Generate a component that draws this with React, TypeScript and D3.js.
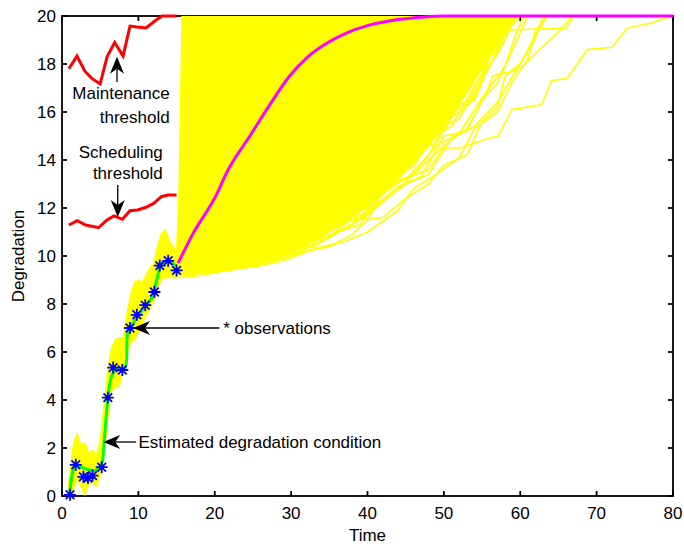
import React, { useEffect, useRef } from 'react';
import * as d3 from 'd3';

// ---------- data ----------
const xTicks = [0, 10, 20, 30, 40, 50, 60, 70, 80];
const yTicks = [0, 2, 4, 6, 8, 10, 12, 14, 16, 18, 20];

// maintenance threshold (red, top)
const maintT = [0.9, 1.96, 3.0, 3.9, 5.0, 5.9, 6.9, 8.0, 8.9, 9.8, 11.0, 12.2, 13.1, 15.0];
const maintY = [17.8, 18.33, 17.7, 17.4, 17.17, 18.3, 18.9, 18.33, 19.58, 19.54, 19.5, 19.8, 20, 20];

// scheduling threshold (red, lower)
const schedT = [0.9, 2.0, 3.1, 4.8, 5.9, 6.8, 7.9, 8.9, 9.9, 11.0, 12.0, 13.0, 13.9, 15.0];
const schedY = [11.29, 11.47, 11.29, 11.18, 11.5, 11.67, 11.53, 11.89, 11.92, 12.03, 12.19, 12.47, 12.54, 12.54];

// particle band around the estimate (yellow, t <= 15)
const bandT = [0.8, 1, 1.5, 2, 2.5, 3, 3.5, 4, 4.5, 5, 5.5, 6, 6.5, 7, 7.5, 8, 8.5, 9, 9.5, 10, 10.5, 11, 11.5, 12, 12.5, 13, 13.5, 14, 14.5, 15];
const bandUpper = [0.3, 0.9, 2.2, 2.6, 2.1, 2.2, 1.8, 1.9, 1.7, 2.3, 3.8, 5.3, 6.2, 6.5, 6.6, 6.6, 7.6, 8.4, 8.9, 9.0, 8.9, 9.2, 9.5, 9.7, 10.4, 10.9, 11.1, 10.7, 10.4, 10.2];
const bandLower = [0, 0, 0.3, 0.7, 0.4, 0.05, 0.5, 0.6, 0.4, 0.8, 1.8, 3.2, 4.4, 4.5, 4.6, 5.2, 6.0, 6.4, 6.5, 6.8, 7.2, 7.5, 7.8, 8.1, 8.7, 9.0, 9.1, 9.1, 9.1, 9.1];

// dense prediction fan (yellow, t >= 15): upper-left edge then lower edge
const fanUpperT = [15, 15.3, 15.5, 15.7, 60];
const fanUpperY = [10.2, 12.5, 16, 20, 20];
const fanLowerT = [15, 20, 25, 30, 34, 38, 41, 44, 47, 50, 53, 56, 58.5, 60];
const fanLowerY = [9.2, 9.3, 9.6, 10.1, 10.8, 11.6, 12.3, 13.2, 14.2, 15.4, 16.8, 18.3, 19.5, 20];

// individual simulated paths outside the dense fan
const simT = [
  [15, 18.5, 23, 27.2, 29.4, 31.6, 33.8, 36.8, 40.3, 41.6, 44.6, 48, 49.9, 52.1, 55.8, 57.1, 58.9, 62.8, 64.1, 66.1, 68.8, 72, 74, 77, 80],
  [15, 22, 28, 32, 36, 40, 44, 48, 50, 53, 55.6, 56.4, 60, 62.2, 65.2, 66.8],
  [15, 24, 30, 34, 38, 42, 45, 48, 51, 54, 57, 59, 61.9, 63],
  [15, 26, 31, 35, 39, 43, 46, 49, 52, 55, 58, 59.5, 60.5],
  [15, 27, 32, 36, 40, 44, 47, 50, 53, 56, 59],
  [15, 28, 33, 37, 41, 45, 48, 51, 54, 57, 58.5],
  [15, 25, 30, 33, 36, 39, 42, 45, 48, 51, 54, 56, 57.5, 59.5],
  [15, 21, 27, 31, 35, 39, 41, 44, 47, 50, 53, 55, 57, 59, 61],
  [15, 23, 29, 32, 35, 38, 40, 42, 45, 48, 50, 53, 55, 57, 58, 60, 62, 63.5],
  [15, 30, 34, 37, 40, 43, 46, 49, 52, 54, 56, 58, 59],
  [15, 33, 36, 40, 43, 46, 49, 52, 55, 57, 58],
  [15, 26, 29, 33, 37, 40, 44, 46, 49, 52, 54, 57, 59, 61, 62, 63.5],
  [15, 35, 45, 52, 56, 57, 66, 67],
];
const simY = [
  [9.1, 9.2, 9.55, 10.0, 10.25, 10.6, 11.1, 11.4, 11.6, 12.5, 13.2, 13.6, 14.5, 14.5, 14.9, 15.0, 16.1, 16.3, 17.3, 17.4, 18.6, 18.7, 19.5, 19.7, 20],
  [9.2, 9.4, 9.9, 10.5, 11.0, 11.7, 12.8, 14.0, 14.6, 15.3, 16.8, 17.5, 17.8, 18.5, 19.4, 20],
  [9.2, 9.5, 10.0, 10.6, 11.3, 12.3, 13.0, 13.4, 14.9, 15.4, 16.4, 17.5, 19.0, 20],
  [9.2, 9.7, 10.4, 11.2, 11.6, 13.0, 13.4, 14.6, 15.1, 16.6, 17.9, 19.3, 20],
  [9.3, 9.9, 10.6, 11.6, 12.1, 13.9, 14.3, 15.6, 16.2, 17.9, 20],
  [9.3, 10.1, 10.7, 11.8, 12.4, 13.6, 14.9, 15.4, 17.1, 18.4, 20],
  [9.3, 9.6, 10.3, 10.4, 11.0, 11.3, 12.8, 13.2, 14.2, 16.0, 16.5, 18.0, 18.7, 20],
  [9.2, 9.4, 9.8, 10.2, 10.8, 11.9, 12.1, 12.9, 13.3, 15.0, 15.2, 16.5, 17.2, 18.6, 20],
  [9.2, 9.5, 9.9, 10.2, 10.4, 10.9, 11.5, 11.6, 12.4, 13.0, 13.8, 14.2, 15.6, 16.2, 17.5, 18.0, 19.2, 20],
  [9.3, 10.2, 11.0, 11.3, 12.6, 12.9, 14.4, 14.7, 16.3, 16.6, 18.3, 19.0, 20],
  [9.3, 10.6, 11.4, 11.8, 13.4, 13.7, 15.3, 15.7, 17.6, 19.1, 20],
  [9.2, 9.6, 9.8, 10.3, 10.6, 11.0, 11.9, 12.8, 13.4, 14.1, 15.3, 16.0, 17.3, 18.2, 19.4, 20],
  [9.3, 11.5, 14.5, 17.5, 19.0, 19.4, 19.5, 20],
];

// estimated degradation condition (green)
const estT = [1, 1.8, 2.8, 4.1, 5.1, 5.5, 5.9, 6.5, 7.2, 8.2, 8.6, 9.1, 10.4, 11.8, 12.4, 13.1, 14.1, 14.9];
const estY = [0.05, 1.3, 1.17, 1.05, 1.25, 2.2, 3.7, 5.0, 5.3, 5.3, 6.8, 7.1, 7.7, 8.3, 9.0, 9.7, 9.75, 9.6];

// observations (blue stars)
const obsT = [1.05, 1.8, 2.8, 3.4, 4.0, 5.2, 6.0, 6.7, 7.9, 8.9, 9.8, 10.9, 12.1, 12.8, 13.9, 15.0];
const obsY = [0.05, 1.3, 0.8, 0.75, 0.85, 1.2, 4.1, 5.35, 5.25, 7.0, 7.55, 7.95, 8.5, 9.6, 9.8, 9.4];

// mean predicted degradation (magenta)
const meanT = [15.2, 17.1, 20.3, 21.6, 24.6, 27.2, 29.8, 32.2, 34.6, 37.3, 40, 44, 47, 50, 80];
const meanY = [9.7, 10.9, 12.6, 13.5, 15.0, 16.3, 17.5, 18.3, 18.85, 19.3, 19.6, 19.85, 19.95, 20, 20];

export default function App() {
  const ref = useRef<SVGSVGElement>(null);
  const width = 684;
  const height = 544;
  const margin = { Top: 16, Right: 11, Bottom: 48, Left: 62 };
  const font = '"Liberation Sans", Arial, Helvetica, sans-serif';
  const fs = 17;

  useEffect(() => {
    document.body.style.margin = '0';
    const svg = d3.select(ref.current);
    svg.selectAll('*').remove();

    const x = d3.scaleLinear().domain([0, 80]).range([margin.Left, width - margin.Right]);
    const y = d3.scaleLinear().domain([0, 20]).range([height - margin.Bottom, margin.Top]);
    const [x0, x1] = x.range();
    const [y0, y1] = y.range();

    svg.append('defs').append('clipPath').attr('id', 'plotClip')
      .append('rect').attr('x', x0).attr('y', y1).attr('width', x1 - x0).attr('height', y0 - y1);

    // ------------ axes box & ticks ------------
    const axes = svg.append('g');
    axes.append('rect')
      .attr('x', x0).attr('y', y1).attr('width', x1 - x0).attr('height', y0 - y1)
      .attr('fill', 'none').attr('stroke', '#000').attr('stroke-width', 1.8);
    const tl = 5;
    xTicks.forEach((t) => {
      axes.append('line').attr('x1', x(t)).attr('x2', x(t)).attr('y1', y0).attr('y2', y0 - tl)
        .attr('stroke', '#000').attr('stroke-width', 1.8);
      axes.append('line').attr('x1', x(t)).attr('x2', x(t)).attr('y1', y1).attr('y2', y1 + tl)
        .attr('stroke', '#000').attr('stroke-width', 1.8);
      axes.append('text').attr('x', x(t)).attr('y', y0 + 23).attr('text-anchor', 'middle')
        .attr('font-family', font).attr('font-size', fs).text(t);
    });
    yTicks.forEach((v) => {
      axes.append('line').attr('x1', x0).attr('x2', x0 + tl).attr('y1', y(v)).attr('y2', y(v))
        .attr('stroke', '#000').attr('stroke-width', 1.8);
      axes.append('line').attr('x1', x1).attr('x2', x1 - tl).attr('y1', y(v)).attr('y2', y(v))
        .attr('stroke', '#000').attr('stroke-width', 1.8);
      axes.append('text').attr('x', x0 - 6).attr('y', y(v) + 6).attr('text-anchor', 'end')
        .attr('font-family', font).attr('font-size', fs).text(v);
    });
    axes.append('text').attr('x', (x0 + x1) / 2).attr('y', y0 + 45).attr('text-anchor', 'middle')
      .attr('font-family', font).attr('font-size', fs).text('Time');
    axes.append('text').attr('transform', `translate(24,${(y0 + y1) / 2}) rotate(-90)`)
      .attr('text-anchor', 'middle').attr('font-family', font).attr('font-size', fs).text('Degradation');

    const plot = svg.append('g').attr('clip-path', 'url(#plotClip)');

    // ------------ thresholds (red) ------------
    const line = d3.line<[number, number]>().x((d) => x(d[0])).y((d) => y(d[1]));
    svg.append('path').datum(maintT.map((t, i) => [t, maintY[i]] as [number, number]))
      .attr('d', line).attr('fill', 'none').attr('stroke', '#ff0000').attr('stroke-width', 3);
    svg.append('path').datum(schedT.map((t, i) => [t, schedY[i]] as [number, number]))
      .attr('d', line).attr('fill', 'none').attr('stroke', '#ff0000').attr('stroke-width', 3);

    // ------------ yellow band & fan ------------
    const band = d3.area<number>().x((d, i) => x(bandT[i])).y0((d, i) => y(bandLower[i])).y1((d) => y(d));
    plot.append('path').datum(bandUpper).attr('d', band).attr('fill', '#ffff00')
      .attr('stroke', '#ffff00').attr('stroke-width', 1.2);

    plot.append('g').selectAll('path').data(simT).join('path')
      .attr('d', (ts, k) => line(ts.map((t, i) => [t, simY[k][i]] as [number, number])))
      .attr('fill', 'none').attr('stroke', '#ffff00').attr('stroke-width', 1.6);

    const fanPts: [number, number][] = [
      ...fanUpperT.map((t, i) => [t, fanUpperY[i]] as [number, number]),
      ...fanLowerT.map((t, i) => [t, fanLowerY[i]] as [number, number]).reverse(),
    ];
    plot.append('path').datum(fanPts).attr('d', (d) => line(d) + 'Z')
      .attr('fill', '#ffff00').attr('stroke', '#ffff00').attr('stroke-width', 1.2);

    // ------------ estimate (green) ------------
    plot.append('path').datum(estT.map((t, i) => [t, estY[i]] as [number, number]))
      .attr('d', d3.line<[number, number]>().x((d) => x(d[0])).y((d) => y(d[1])).curve(d3.curveCatmullRom))
      .attr('fill', 'none').attr('stroke', '#00ff00').attr('stroke-width', 3);

    // ------------ observations (blue *) ------------
    const s = 6;
    const a = s * 0.72;
    const star = `M${-s},0L${s},0M0,${-s}L0,${s}M${-a},${-a}L${a},${a}M${-a},${a}L${a},${-a}`;
    svg.append('g').selectAll('path').data(obsT).join('path')
      .attr('transform', (t, i) => `translate(${x(t)},${y(obsY[i])})`)
      .attr('d', star).attr('fill', 'none').attr('stroke', '#0000ff').attr('stroke-width', 1.8);

    // ------------ mean prediction (magenta) ------------
    svg.append('path').datum(meanT.map((t, i) => [t, meanY[i]] as [number, number]))
      .attr('d', d3.line<[number, number]>().x((d) => x(d[0])).y((d) => y(d[1])).curve(d3.curveMonotoneX))
      .attr('fill', 'none').attr('stroke', '#ff00ff').attr('stroke-width', 3);

    // ------------ annotations ------------
    const ann = svg.append('g');
    const arrow = (tx: number, ty: number, fx: number, fy: number) => {
      // tip at (tx,ty), tail at (fx,fy), in pixels
      const ang = Math.atan2(ty - fy, tx - fx);
      const L = 17, W = 7, N = 12;
      const ux = Math.cos(ang), uy = Math.sin(ang);
      const px = -uy, py = ux;
      const bx = tx - ux * L, by = ty - uy * L;
      const nx = tx - ux * N, ny = ty - uy * N;
      ann.append('line').attr('x1', fx).attr('y1', fy).attr('x2', nx).attr('y2', ny)
        .attr('stroke', '#000').attr('stroke-width', 1.3);
      ann.append('path')
        .attr('d', `M${tx},${ty}L${bx + px * W},${by + py * W}L${nx},${ny}L${bx - px * W},${by - py * W}Z`)
        .attr('fill', '#000');
    };
    const label = (tx: number, ty: number, str: string, anchor: string) => {
      ann.append('text').attr('x', tx).attr('y', ty).attr('text-anchor', anchor)
        .attr('font-family', font).attr('font-size', fs).text(str);
    };

    arrow(x(7.2), y(18.3), x(7.2), y(17.25));
    label(x(14.1), y(16.79) + 6, 'Maintenance', 'end');
    label(x(14.1), y(15.79) + 6, 'threshold', 'end');

    arrow(x(7.3), y(11.63), x(7.3), y(12.96));
    label(x(13.2), y(14.33) + 6, 'Scheduling', 'end');
    label(x(13.2), y(13.46) + 6, 'threshold', 'end');

    arrow(x(9.3), y(7.0), x(20.6), y(7.0));
    label(x(21.1), y(7.0) + 6, '* observations', 'start');

    arrow(x(5.4), y(2.25), x(9.7), y(2.25));
    label(x(10.0), y(2.25) + 6, 'Estimated degradation condition', 'start');
  }, []);

  return (
    <svg ref={ref} width={width} height={height} style={{ display: 'block', background: '#fff' }} />
  );
}
